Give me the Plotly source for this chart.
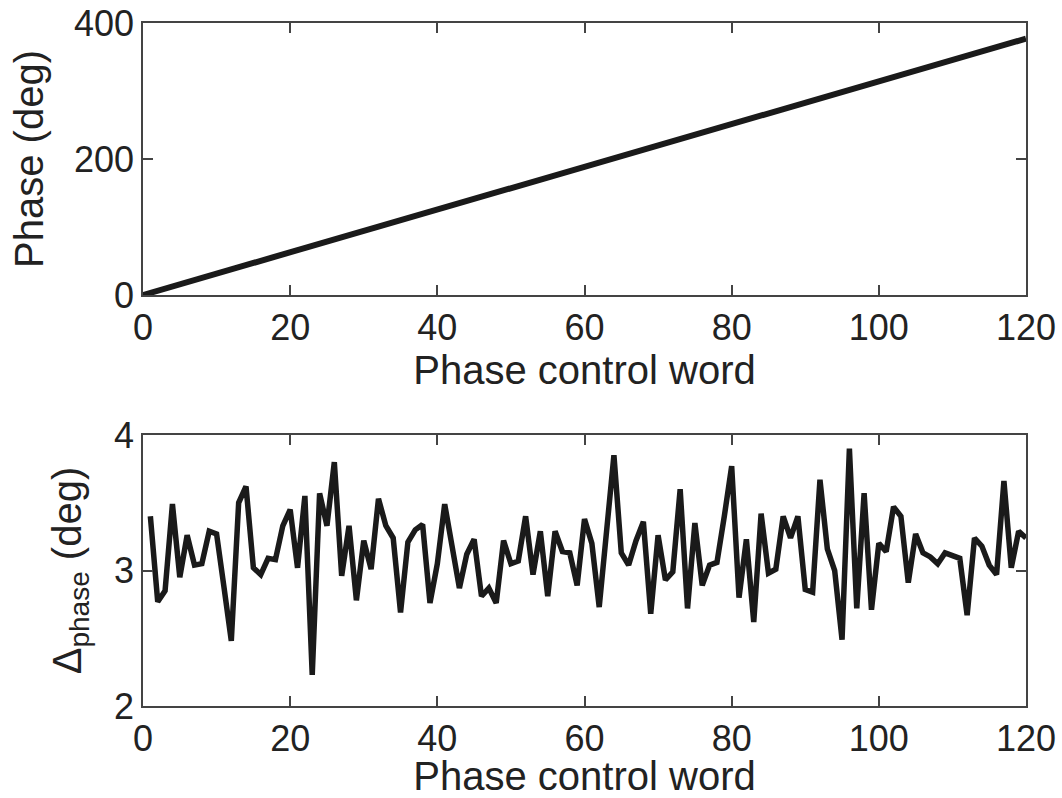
import plotly.graph_objects as go

# ---- data ----
phase_x = [0, 20, 40, 60, 80, 100, 120]
phase_deg = [0, 63, 126, 189, 252, 315, 377]

delta_x = list(range(1, 121))
delta_deg = [
    3.40, 2.77, 2.85, 3.49, 2.95, 3.26, 3.04, 3.05, 3.29, 3.27,
    2.88, 2.48, 3.50, 3.62, 3.02, 2.97, 3.09, 3.08, 3.33, 3.45,
    3.02, 3.55, 2.23, 3.57, 3.33, 3.80, 2.96, 3.33, 2.78, 3.22,
    3.01, 3.53, 3.33, 3.24, 2.69, 3.21, 3.30, 3.34, 2.76, 3.05,
    3.49, 3.20, 2.87, 3.12, 3.23, 2.81, 2.87, 2.76, 3.22, 3.05,
    3.07, 3.40, 2.97, 3.29, 2.81, 3.29, 3.14, 3.13, 2.89, 3.38,
    3.20, 2.73, 3.30, 3.85, 3.13, 3.04, 3.22, 3.36, 2.68, 3.26,
    2.93, 2.99, 3.60, 2.72, 3.35, 2.89, 3.04, 3.06, 3.40, 3.77,
    2.80, 3.23, 2.62, 3.42, 2.98, 3.01, 3.40, 3.24, 3.40, 2.86,
    2.84, 3.67, 3.16, 3.00, 2.49, 3.90, 2.72, 3.57, 2.71, 3.20,
    3.14, 3.47, 3.40, 2.91, 3.27, 3.13, 3.10, 3.05, 3.13, 3.11,
    3.09, 2.67, 3.24, 3.18, 3.04, 2.97, 3.66, 3.02, 3.29, 3.24,
]

x_ticks = [0, 20, 40, 60, 80, 100, 120]
top_y_ticks = [0, 200, 400]
bot_y_ticks = [2, 3, 4]

W, H = 1062, 798
FONT = "Liberation Sans, Arial, sans-serif"
TXT = "#222222"
AX = "#444444"
LINE = "#1a1a1a"
TITLE_FONT = dict(family=FONT, size=40, color=TXT)

def xd(px):
    return px / W

def yd(py):
    return 1 - py / H

fig = go.Figure()
fig.add_trace(go.Scatter(x=phase_x, y=phase_deg, mode="lines",
                         line=dict(color=LINE, width=6), xaxis="x", yaxis="y",
                         showlegend=False))
fig.add_trace(go.Scatter(x=delta_x, y=delta_deg, mode="lines",
                         line=dict(color=LINE, width=5.5), xaxis="x2", yaxis="y2",
                         showlegend=False))

common_axis = dict(showgrid=False, zeroline=False, showline=True, linecolor=AX,
                   linewidth=1.5, mirror="ticks", ticks="inside", ticklen=10,
                   tickwidth=1.5, tickcolor=AX, automargin=False,
                   tickfont=dict(family=FONT, size=36, color=TXT))

xdom = [xd(143), xd(1026)]
fig.update_layout(
    width=W, height=H,
    margin=dict(l=0, r=0, t=0, b=0),
    paper_bgcolor="white", plot_bgcolor="white",
    xaxis=dict(domain=xdom, range=[0, 120], tickvals=x_ticks, anchor="y",
               title=dict(text="Phase control word", standoff=5, font=TITLE_FONT),
               **common_axis),
    yaxis=dict(domain=[yd(295), yd(23)], range=[0, 400], tickvals=top_y_ticks,
               anchor="x",
               title=dict(text="Phase (deg)", standoff=18, font=TITLE_FONT),
               **common_axis),
    xaxis2=dict(domain=xdom, range=[0, 120], tickvals=x_ticks, anchor="y2",
                title=dict(text="Phase control word", standoff=5, font=TITLE_FONT),
                **common_axis),
    yaxis2=dict(domain=[yd(706), yd(435)], range=[2, 4], tickvals=bot_y_ticks,
                anchor="x2",
                title=dict(text="Δ<sub>phase</sub> (deg)", standoff=20,
                           font=TITLE_FONT),
                **common_axis),
)

fig.write_html("out.html")
